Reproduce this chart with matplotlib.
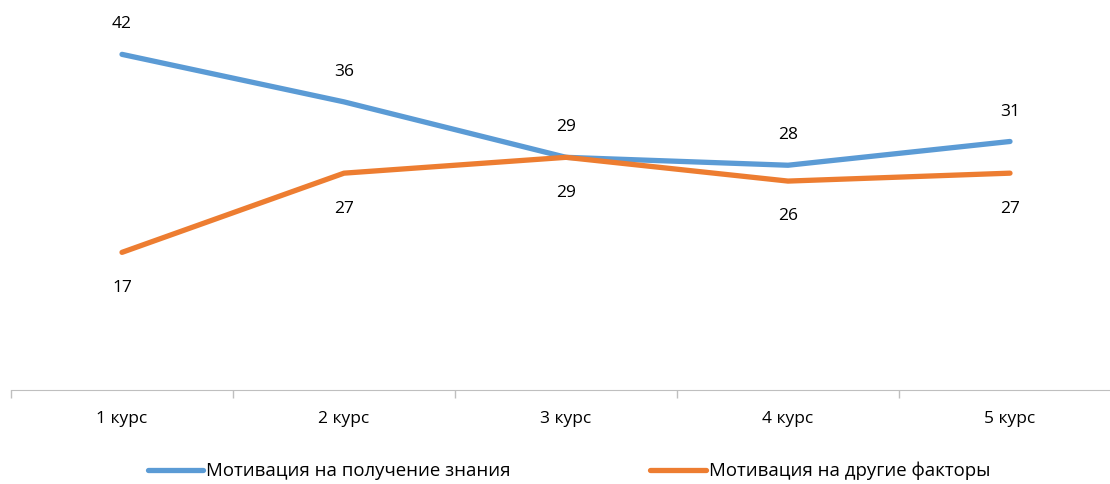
import matplotlib.pyplot as plt

courses = ["1 курс", "2 курс", "3 курс", "4 курс", "5 курс"]
knowledge = [42, 36, 29, 28, 31]
other = [17, 27, 29, 26, 27]

plt.rcParams["font.family"] = ["Open Sans", "DejaVu Sans"]

fig = plt.figure(figsize=(11.1, 4.84), dpi=100)
ax = fig.add_axes([11 / 1110, 97 / 484, 1.0, 396 / 484])

x = list(range(len(courses)))
blue = "#5B9BD5"
orange = "#ED7D31"
ax.plot(x, knowledge, color=blue, lw=3.8, label="Мотивация на получение знания",
        solid_capstyle="round")
ax.plot(x, other, color=orange, lw=3.8, label="Мотивация на другие факторы",
        solid_capstyle="round")

for i, v in enumerate(knowledge):
    ax.annotate(str(v), (i, v), xytext=(0, 21.5), textcoords="offset points",
                ha="center", va="center", fontsize=12.5)
for i, v in enumerate(other):
    ax.annotate(str(v), (i, v), xytext=(0, -25.5), textcoords="offset points",
                ha="center", va="center", fontsize=12.5)

ax.set_xlim(-0.5, 4.5)
ax.set_ylim(0, 50)
ax.set_yticks([])
ax.set_xticks(x, courses)
ax.set_xticks([i - 0.5 for i in range(6)], minor=True)
ax.tick_params(axis="x", which="major", length=0, pad=15.5, labelsize=12.5)
ax.tick_params(axis="x", which="minor", length=6, color="#BFBFBF", width=1)
for s in ["top", "right", "left"]:
    ax.spines[s].set_visible(False)
ax.spines["bottom"].set_color("#BFBFBF")
ax.spines["bottom"].set_position(("outward", 2))

fig.legend(loc="center", bbox_to_anchor=(569 / 1110, 1 - 471 / 484), ncol=2,
           frameon=False, fontsize=13.4, handlelength=3.0, handletextpad=0.15,
           columnspacing=7.5)

fig.savefig("out.png", dpi=100)
